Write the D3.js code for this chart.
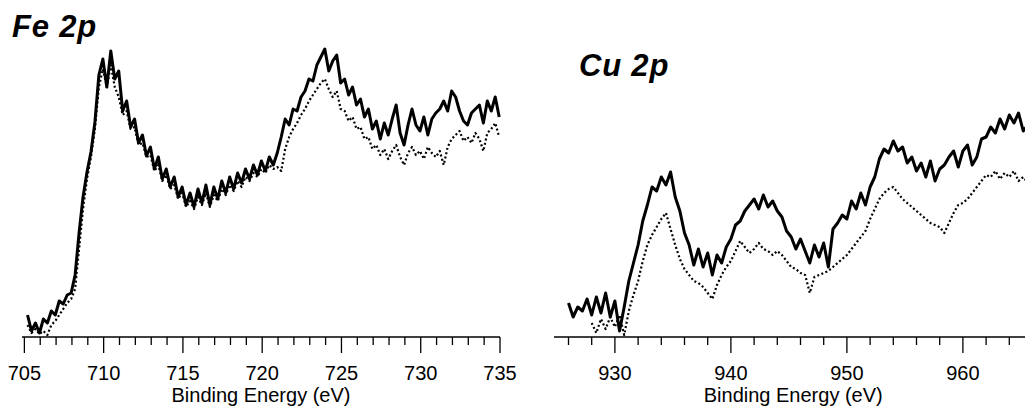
<!DOCTYPE html>
<html lang="en">
<head>
    <meta charset="UTF-8">
    <title>XPS Fe 2p / Cu 2p</title>
    <script type="text/javascript" src="https://d3js.org/d3.v7.min.js"></script>
    <style>
        body { margin: 0; background: #fff; }
        text { font-family: "Liberation Sans", Arial, sans-serif; fill: #000; }
    </style>
</head>
<body>

    <svg id="svg" width="1025" height="408"></svg>

    <script>
        // Fe 2p: energies start at 705.2 eV, 0.25 eV step
        const feStart = 705.2, feStep = 0.25;
        const feSolid = [
            22, 6, 14, 4,   18, 14, 26, 22,   36, 33, 42, 44,   62, 104, 140, 165,
            185, 215, 262, 278,   250, 286, 258, 266,   226, 236, 210, 218,   194, 202, 181, 190,
            168, 180, 158, 168,   150, 160, 140, 150,   132, 144, 130, 148,   134, 152, 132, 150,
            138, 156, 144, 160,   148, 164, 154, 168,   158, 172, 162, 176,   166, 180, 172, 184,
            200, 218, 212, 228,   226, 240, 246, 258,   256, 272, 280, 288,   266, 276, 282, 254,
            258, 242, 250, 232,   238, 220, 228, 208,   216, 198, 214, 202,   218, 232, 204, 192,
            212, 228, 212, 206,   220, 202, 218, 224,   228, 236, 226, 246,   240, 226, 216, 212,
            224, 228, 232, 214,   236, 226, 240, 220
        ];
        const feDotted = [
            12, 4, 8, 3,   6, 2, 12, 16,   22, 28, 34, 38,   48, 88, 128, 158,
            180, 208, 250, 268,   250, 272, 250, 240,   222, 226, 208, 210,   192, 194, 180, 182,
            166, 172, 156, 162,   148, 152, 138, 144,   130, 136, 128, 140,   132, 144, 130, 142,
            136, 148, 142, 152,   146, 156, 150, 160,   156, 164, 160, 168,   164, 172, 168, 170,
            166, 188, 200, 208,   214, 222, 228, 236,   242, 248, 254, 258,   248, 240, 246, 228,
            226, 216, 220, 208,   210, 198, 200, 188,   192, 182, 188, 178,   186, 192, 180, 172,
            184, 190, 182, 186,   178, 190, 184, 180,   186, 172, 190, 198,   202, 206, 196, 200,
            194, 204, 198, 186,   204, 208, 214, 200
        ];

        // Cu 2p: solid from 926.0 eV, dotted from 928.0 eV, 0.4 eV step
        const cuSolidStart = 926.0, cuDotStart = 928.0, cuStep = 0.4;
        const cuSolid = [
            34, 20, 30, 26, 38,   22, 40, 24, 44, 20,   36, 6, 30, 56, 74,   92, 116, 132, 150, 146,
            160, 152, 165, 140, 126,   104, 92, 72, 88, 70,   84, 62, 82, 74, 90,   98, 112, 116, 126, 132,
            138, 128, 142, 130, 136,   126, 120, 106, 100, 88,   98, 86, 74, 92, 80,   94, 70, 108, 114, 122,
            118, 136, 128, 144, 132,   150, 160, 178, 188, 184,   196, 186, 190, 174, 180,   166, 174, 160, 176, 156,
            168, 172, 180, 186, 170,   186, 192, 172, 180, 198,   200, 210, 204, 218, 208,   222, 214, 224, 206, 212
        ];
        const cuDotted = [
            14, 4, 18, 8, 20,   10, 22, 2, 26, 42,   56, 76, 92, 102, 110,   118, 124, 108, 92, 78,
            68, 62, 56, 54, 50,   44, 38, 52, 62, 70,   76, 86, 96, 90, 84,   88, 94, 88, 86, 82,
            86, 82, 76, 70, 68,   64, 62, 44, 60, 62,   64, 66, 70, 74, 78,   82, 88, 94, 100, 106,
            118, 128, 138, 144, 148,   150, 144, 138, 134, 130,   126, 122, 118, 114, 112,   110, 104, 114, 124, 132,
            134, 138, 144, 150, 156,   162, 160, 166, 158, 164,   160, 166, 156, 160, 154
        ];

        const feTicks = d3.range(705, 736, 1);
        const cuTicks = d3.range(926, 965, 2);

        let svg = d3.select('svg');
        const axisY = 337;

        let y = d3.scaleLinear().domain([0, 300]).range([axisY, 37]);

        function toPoints(start, step, values) {
            return values.map((v, i) => ({ e: start + i * step, v: v }));
        }

        function panel(x, ticks, majorEvery, series, title, titlePos) {
            let g = svg.append('g');

            let line = d3.line()
                .x(d => x(d.e))
                .y(d => y(d.v));

            series.forEach(s => {
                g.append('path')
                    .datum(s.points)
                    .attr('d', line)
                    .attr('fill', 'none')
                    .attr('stroke', '#000')
                    .attr('stroke-width', s.dotted ? 2.2 : 3)
                    .attr('stroke-linejoin', 'round')
                    .attr('stroke-dasharray', s.dotted ? '2,2.4' : null);
            });

            // axis line + ticks
            let axis = g.append('g').attr('transform', `translate(0,${axisY})`);
            axis.append('line')
                .attr('x1', x.range()[0]).attr('x2', x.range()[1])
                .attr('stroke', '#000').attr('stroke-width', 1.3);

            axis.selectAll('line.tick')
                .data(ticks)
                .enter()
                .append('line')
                .attr('class', 'tick')
                .attr('x1', d => x(d)).attr('x2', d => x(d))
                .attr('y1', 0)
                .attr('y2', d => d % majorEvery === 0 ? 16 : 8)
                .attr('stroke', '#000').attr('stroke-width', 1.3);

            axis.selectAll('text')
                .data(ticks.filter(d => d % majorEvery === 0))
                .enter()
                .append('text')
                .attr('x', d => x(d))
                .attr('y', 43)
                .attr('text-anchor', 'middle')
                .style('font-size', '20px')
                .text(d => d);

            g.append('text')
                .attr('x', (x.range()[0] + x.range()[1]) / 2)
                .attr('y', 402)
                .attr('text-anchor', 'middle')
                .style('font-size', '20px')
                .text('Binding Energy (eV)');

            g.append('text')
                .attr('x', titlePos[0])
                .attr('y', titlePos[1])
                .style('font-size', '31px')
                .style('font-weight', 'bold')
                .style('font-style', 'italic')
                .style('letter-spacing', '0.8px')
                .text(title);
        }

        let xFe = d3.scaleLinear().domain([704.85, 735]).range([22, 500]);
        panel(xFe, feTicks, 5, [
            { points: toPoints(feStart, feStep, feDotted), dotted: true },
            { points: toPoints(feStart, feStep, feSolid), dotted: false }
        ], 'Fe 2p', [12, 37]);

        let xCu = d3.scaleLinear().domain([924.75, 966]).range([554, 1032.5]);
        panel(xCu, cuTicks, 10, [
            { points: toPoints(cuDotStart, cuStep, cuDotted), dotted: true },
            { points: toPoints(cuSolidStart, cuStep, cuSolid), dotted: false }
        ], 'Cu 2p', [579, 76]);
    </script>

</body>
</html>
